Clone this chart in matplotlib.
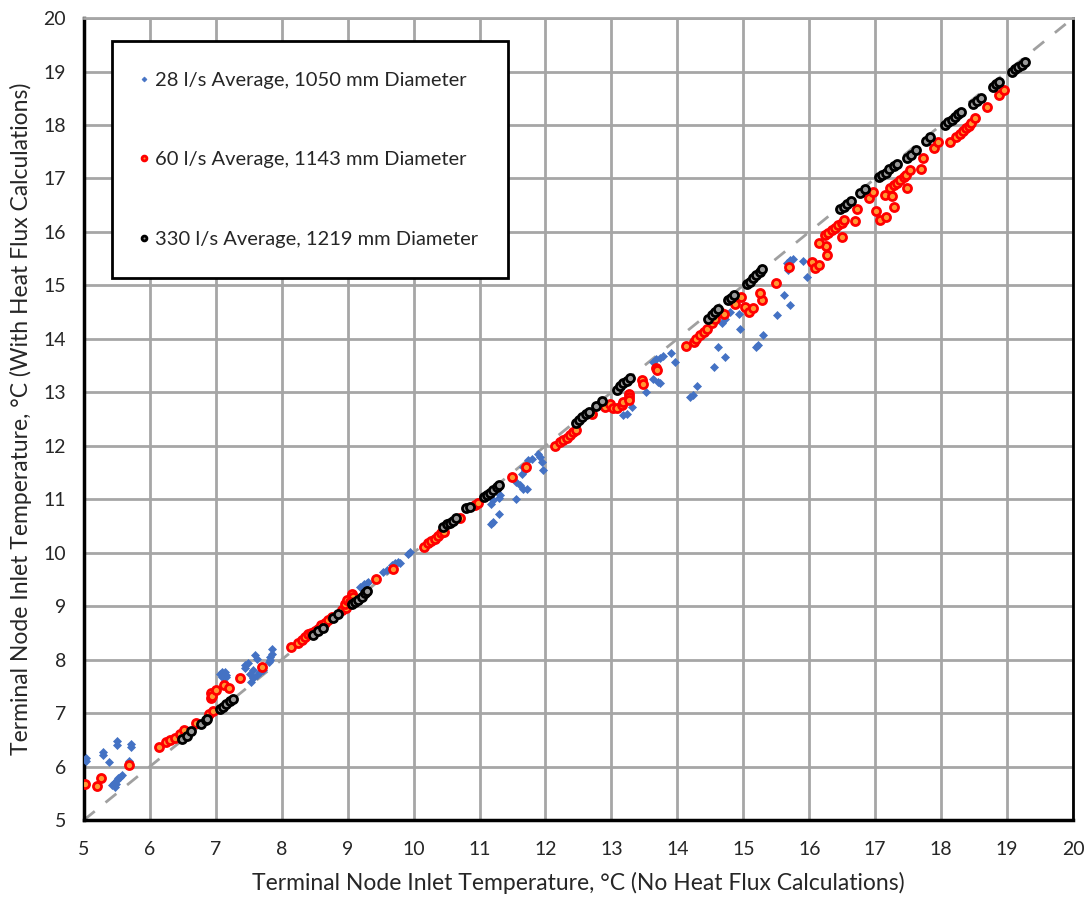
import matplotlib
matplotlib.use('Agg')
from matplotlib import pyplot as plt

# 28 l/s Average, 1050 mm Diameter
blue_x = [5.03, 5.03, 5.29, 5.29, 5.38, 5.50, 5.50, 5.72, 5.72, 5.69,
          5.42, 5.45, 5.48, 5.50, 5.52, 5.55, 5.58, 5.47,
          7.06, 7.09, 7.14, 7.16, 7.09, 7.16,
          7.44, 7.44, 7.49, 7.52, 7.57, 7.54, 7.57, 7.62, 7.67, 7.72, 7.60, 7.62, 7.85, 7.85, 7.82, 7.80, 7.82,
          9.19, 9.24, 9.29, 9.31, 9.54, 9.59, 9.67, 9.72, 9.77, 9.79, 9.92, 9.95,
          11.18, 11.21, 11.30, 11.31, 11.21, 11.18, 11.30, 11.55,
          11.56, 11.61, 11.66, 11.72, 11.64, 11.66, 11.74, 11.79, 11.69,
          11.89, 11.92, 11.94, 11.96,
          13.18, 13.23, 13.31, 13.53,
          13.63, 13.70, 13.74, 13.63, 13.67, 13.74, 13.78, 13.91, 13.96,
          14.19, 14.24, 14.30, 14.55, 14.62, 14.72, 14.95, 15.20, 15.23, 15.30, 14.67, 14.72, 14.80, 14.93,
          15.51, 15.61, 15.71, 15.96, 15.91, 15.66, 15.71, 15.76, 15.68]
blue_y = [6.16, 6.10, 6.28, 6.22, 6.09, 6.47, 6.40, 6.42, 6.36, 6.10,
          5.65, 5.70, 5.68, 5.75, 5.78, 5.80, 5.85, 5.62,
          7.74, 7.77, 7.77, 7.71, 7.68, 7.68,
          7.90, 7.84, 7.93, 7.74, 7.65, 7.58, 7.81, 7.71, 7.77, 7.81, 8.09, 8.02, 8.19, 8.11, 7.99, 7.96, 8.05,
          9.36, 9.41, 9.43, 9.45, 9.64, 9.68, 9.77, 9.81, 9.83, 9.80, 9.98, 10.01,
          10.92, 10.98, 11.03, 11.08, 10.58, 10.54, 10.72, 11.00,
          11.33, 11.26, 11.20, 11.20, 11.48, 11.60, 11.73, 11.76, 11.54,
          11.85, 11.79, 11.70, 11.55,
          12.57, 12.60, 12.73, 13.01,
          13.24, 13.19, 13.18, 13.57, 13.62, 13.65, 13.68, 13.73, 13.57,
          12.92, 12.95, 13.12, 13.48, 13.85, 13.66, 14.19, 13.85, 13.88, 14.07, 14.29, 14.38, 14.50, 14.47,
          14.44, 14.82, 14.63, 15.16, 15.46, 15.41, 15.47, 15.50, 15.29]

# 60 l/s Average, 1143 mm Diameter
red_x = [5.02, 5.20, 5.26, 5.69,
         6.14, 6.24, 6.30, 6.38, 6.45, 6.52, 6.70, 6.89, 6.96,
         6.93, 6.93, 6.94, 7.00, 7.12, 7.20, 7.37, 7.70,
         8.14, 8.25, 8.30, 8.35, 8.40, 8.45, 8.50, 8.55, 8.60, 8.65, 8.70, 8.76,
         8.91, 8.97, 8.96, 8.99, 9.06, 9.08, 9.03, 9.43, 9.68,
         10.15, 10.22, 10.27, 10.32, 10.37, 10.42, 10.46, 10.71, 10.93, 10.98,
         11.49, 11.70,
         12.14, 12.22, 12.27, 12.32, 12.37, 12.42, 12.47,
         12.70, 12.88, 12.90, 12.98, 13.03, 13.09, 13.16, 13.17, 13.27, 13.27, 13.27,
         13.47, 13.48, 13.68, 13.69,
         14.13, 14.25, 14.29, 14.34, 14.40, 14.45, 14.52, 14.57, 14.65, 14.70,
         14.87, 15.03, 15.08, 15.15, 15.28, 14.97, 15.25, 15.50, 15.70,
         16.04, 16.09, 16.15, 16.27, 16.25, 16.15, 16.24, 16.29, 16.34, 16.39, 16.44, 16.49, 16.53, 16.49,
         16.69, 16.72, 16.90, 16.96, 17.02, 17.07, 17.16, 17.28, 17.15, 17.26, 17.23, 17.28, 17.33, 17.38,
         17.43, 17.47, 17.53, 17.49, 17.69, 17.72, 17.89, 17.96, 18.14, 18.23, 18.28, 18.33, 18.38, 18.43,
         18.46, 18.52, 18.70, 18.88, 18.96]
red_y = [5.67, 5.64, 5.78, 6.03,
         6.36, 6.45, 6.50, 6.54, 6.61, 6.68, 6.82, 6.98, 7.04,
         7.28, 7.37, 7.32, 7.43, 7.52, 7.47, 7.65, 7.87,
         8.24, 8.31, 8.37, 8.43, 8.48, 8.50, 8.54, 8.58, 8.64, 8.69, 8.74, 8.79,
         8.93, 8.97, 9.04, 9.11, 9.22, 9.17, 9.08, 9.50, 9.70,
         10.11, 10.18, 10.22, 10.26, 10.31, 10.36, 10.39, 10.64, 10.89, 10.93,
         11.41, 11.60,
         11.99, 12.07, 12.11, 12.15, 12.20, 12.25, 12.29,
         12.59, 12.76, 12.73, 12.79, 12.70, 12.70, 12.76, 12.82, 12.97, 12.91, 12.86,
         13.23, 13.16, 13.46, 13.41,
         13.86, 13.94, 14.00, 14.07, 14.13, 14.19, 14.29, 14.38, 14.50, 14.47,
         14.66, 14.60, 14.51, 14.57, 14.72, 14.79, 14.86, 15.05, 15.34,
         15.44, 15.32, 15.38, 15.56, 15.74, 15.80, 15.94, 15.98, 16.03, 16.08, 16.13, 16.17, 16.23, 15.90,
         16.21, 16.43, 16.64, 16.74, 16.39, 16.23, 16.28, 16.46, 16.70, 16.67, 16.83, 16.88, 16.92, 16.97,
         17.02, 17.06, 17.16, 16.83, 17.17, 17.38, 17.57, 17.69, 17.69, 17.78, 17.83, 17.89, 17.94, 17.98,
         18.04, 18.14, 18.33, 18.56, 18.66]

# 330 l/s Average, 1219 mm Diameter
black_x = [6.48, 6.56, 6.62, 6.78, 6.85, 6.86,
           7.06, 7.11, 7.16, 7.21, 7.26,
           8.48, 8.55, 8.63, 8.78, 8.86,
           9.06, 9.11, 9.16, 9.21, 9.26, 9.29,
           10.45, 10.50, 10.55, 10.60, 10.65, 10.80, 10.86,
           11.06, 11.11, 11.16, 11.21, 11.26, 11.30,
           12.46, 12.51, 12.56, 12.61, 12.66, 12.77, 12.85,
           13.08, 13.13, 13.18, 13.23, 13.28,
           14.47, 14.52, 14.57, 14.61, 14.77, 14.82, 14.86,
           15.05, 15.10, 15.15, 15.20, 15.25, 15.28,
           16.47, 16.52, 16.58, 16.64, 16.77, 16.85, 17.06, 17.11, 17.16, 17.21, 17.28, 17.33,
           17.48, 17.55, 17.62, 17.77, 17.83, 18.06, 18.11, 18.16, 18.21, 18.26, 18.30,
           18.48, 18.54, 18.60, 18.78, 18.84, 18.88, 19.07, 19.12, 19.17, 19.22, 19.27]
black_y = [6.51, 6.57, 6.66, 6.79, 6.87, 6.89,
           7.07, 7.12, 7.17, 7.22, 7.27,
           8.46, 8.53, 8.60, 8.77, 8.85,
           9.04, 9.08, 9.12, 9.17, 9.24, 9.28,
           10.48, 10.53, 10.56, 10.59, 10.64, 10.83, 10.86,
           11.04, 11.08, 11.12, 11.17, 11.22, 11.27,
           12.43, 12.48, 12.54, 12.59, 12.63, 12.75, 12.84,
           13.05, 13.12, 13.17, 13.22, 13.26,
           14.38, 14.44, 14.51, 14.55, 14.73, 14.77, 14.82,
           15.02, 15.07, 15.13, 15.19, 15.25, 15.30,
           16.42, 16.47, 16.52, 16.58, 16.72, 16.81, 17.02, 17.06, 17.11, 17.17, 17.23, 17.27,
           17.38, 17.44, 17.53, 17.70, 17.78, 18.00, 18.06, 18.10, 18.15, 18.20, 18.24,
           18.39, 18.45, 18.51, 18.71, 18.76, 18.80, 18.99, 19.04, 19.09, 19.13, 19.18]

ticks = list(range(5, 21))

plt.rcParams['font.family'] = ['Lato', 'DejaVu Sans']
txt = '#262626'

fig = plt.figure(figsize=(10.86, 9), dpi=100)
ax = fig.add_axes([0.0773, 0.0889, 0.9107, 0.891])

ax.set_xlim(5, 20)
ax.set_ylim(5, 20)
ax.set_xticks(ticks)
ax.set_yticks(ticks)
ax.grid(True, color='#a6a6a6', linewidth=2)
ax.set_axisbelow(True)

# 1:1 line
ax.plot([5, 20], [5, 20], color='#a0a0a0', linewidth=2, dashes=(5, 5), zorder=1)

ax.plot(blue_x, blue_y, linestyle='none', marker='D', markersize=4.2,
        color='#4472c4', markeredgewidth=0.5, label='28 l/s Average, 1050 mm Diameter', zorder=3)
ax.plot(red_x, red_y, linestyle='none', marker='o', markersize=5.8,
        markerfacecolor='#ff9933', markeredgecolor='#ff0000', markeredgewidth=2,
        label='60 l/s Average, 1143 mm Diameter', zorder=4)
ax.plot(black_x, black_y, linestyle='none', marker='o', markersize=5.8,
        markerfacecolor='#9a9a9a', markeredgecolor='#000000', markeredgewidth=2,
        label='330 l/s Average, 1219 mm Diameter', zorder=5)

for side in ['left', 'bottom']:
    ax.spines[side].set_linewidth(2.5)
    ax.spines[side].set_color('black')
ax.spines['right'].set_linewidth(2)
ax.spines['right'].set_color('black')
ax.spines['top'].set_linewidth(2)
ax.spines['top'].set_color('#a6a6a6')

ax.tick_params(length=0, labelsize=14, labelcolor=txt)
ax.tick_params(axis='x', pad=15)
ax.tick_params(axis='y', pad=13)

ax.set_xlabel('Terminal Node Inlet Temperature, °C (No Heat Flux Calculations)',
              fontsize=16.5, color=txt, labelpad=10)
ax.set_ylabel('Terminal Node Inlet Temperature, °C (With Heat Flux Calculations)',
              fontsize=16.5, color=txt, labelpad=8)

leg = ax.legend(loc='upper left', bbox_to_anchor=(0.028, 0.971), fontsize=14.5,
                markerscale=0.6, handlelength=0.2, handletextpad=0.45,
                labelspacing=3.1, borderpad=1.5, borderaxespad=0,
                fancybox=False, framealpha=1, edgecolor='black')
leg.get_frame().set_linewidth(2)
for t in leg.get_texts():
    t.set_color(txt)

fig.savefig('out.png', dpi=100)
